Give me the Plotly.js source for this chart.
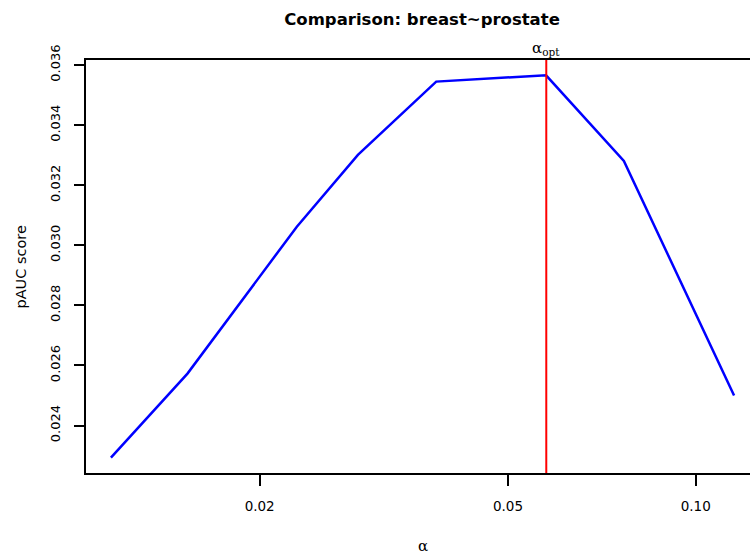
<!DOCTYPE html>
<html>
<head>
<meta charset="utf-8">
<script src="https://cdn.plot.ly/plotly-3.0.1.min.js"></script>
<style>html,body{margin:0;padding:0;background:#fff;}#chart{width:750px;height:559px;}</style>
</head>
<body>
<div id="chart"></div>
<script>
// Data
const alphaValues = [0.01155, 0.01532, 0.02294, 0.02874, 0.03837, 0.05756, 0.0767, 0.1152];
const paucScores  = [0.02293, 0.02573, 0.03062, 0.03301, 0.03545, 0.03566, 0.03281, 0.02500];
const alphaOpt = 0.0576;
const xTickVals = [0.02, 0.05, 0.1];
const xTickText = ['0.02', '0.05', '0.10'];
const yTickVals = [0.024, 0.026, 0.028, 0.030, 0.032, 0.034, 0.036];
const yTickText = ['0.024', '0.026', '0.028', '0.030', '0.032', '0.034', '0.036'];
const titleText = 'Comparison: breast~prostate';

// R-style 4% axis extension
const yMinD = Math.min(...paucScores), yMaxD = Math.max(...paucScores);
const yPad = 0.04 * (yMaxD - yMinD);
const yRange = [yMinD - yPad, yMaxD + yPad];
const lxMin = Math.log10(Math.min(...alphaValues)), lxMax = Math.log10(Math.max(...alphaValues));
const xPad = 0.04 * (lxMax - lxMin);
const xLeft = lxMin - xPad;
const xRightFull = lxMax + xPad;
// plot area is cut by the window edge: 664px visible out of 673px
const xRange = [xLeft, xLeft + (xRightFull - xLeft) * 664 / 673];

const font = 'DejaVu Sans, Liberation Sans, Arial, sans-serif';

const traces = [
  {x: alphaValues, y: paucScores, type: 'scatter', mode: 'lines',
   line: {color: '#0000ff', width: 2.5}, hoverinfo: 'skip', showlegend: false},
  {x: [alphaOpt, alphaOpt], y: yRange, type: 'scatter', mode: 'lines',
   line: {color: '#ff0000', width: 2}, hoverinfo: 'skip', showlegend: false, cliponaxis: true}
];

const layout = {
  width: 750, height: 559,
  margin: {l: 86, r: 0, t: 60, b: 86, pad: 0},
  paper_bgcolor: '#ffffff', plot_bgcolor: '#ffffff',
  font: {family: font, color: '#000000', size: 13},
  showlegend: false,
  title: {text: '<b>' + titleText + '</b>', x: 0.5627, xref: 'container', xanchor: 'center',
          y: 1 - 19 / 559, yref: 'container', yanchor: 'middle',
          font: {family: font, size: 16.5, color: '#000000'}},
  xaxis: {type: 'log', range: xRange, autorange: false,
          tickmode: 'array', tickvals: xTickVals, ticktext: xTickText,
          ticks: 'outside', ticklen: 11, tickwidth: 2, tickcolor: '#000',
          showline: true, linewidth: 2, linecolor: '#000', mirror: true,
          showgrid: false, zeroline: false, ticklabelstandoff: 9,
          tickfont: {family: font, size: 13.5, color: '#000'}},
  yaxis: {range: yRange, autorange: false,
          tickmode: 'array', tickvals: yTickVals, ticktext: yTickText, tickangle: -90,
          ticks: 'outside', ticklen: 10, tickwidth: 2, tickcolor: '#000',
          showline: true, linewidth: 2, linecolor: '#000', mirror: false,
          showgrid: false, zeroline: false, ticklabelstandoff: 9,
          tickfont: {family: font, size: 13, color: '#000'}},
  annotations: [
    {text: 'pAUC score', xref: 'paper', yref: 'paper', x: (20 - 86) / 664, y: 0.5,
     xanchor: 'center', yanchor: 'middle', textangle: -90, showarrow: false,
     font: {family: font, size: 14.5, color: '#000'}},
    {text: 'α', xref: 'paper', yref: 'paper', x: (422.5 - 86) / 664, y: -(546 - 473) / 413,
     xanchor: 'center', yanchor: 'middle', showarrow: false,
     font: {family: 'DejaVu Serif, serif', size: 15, color: '#000'}},
    {text: 'α<sub>opt</sub>', xref: 'x', yref: 'paper', x: Math.log10(alphaOpt), y: 1 + (60 - 49) / 413,
     xanchor: 'center', yanchor: 'middle', showarrow: false,
     font: {family: 'DejaVu Serif, serif', size: 15, color: '#000'}}
  ]
};

Plotly.newPlot('chart', traces, layout, {staticPlot: true, displayModeBar: false});
</script>
</body>
</html>
